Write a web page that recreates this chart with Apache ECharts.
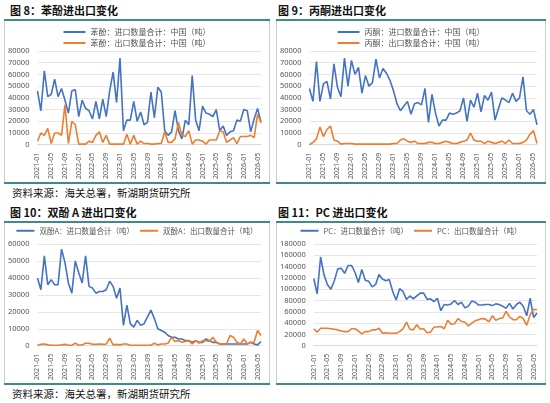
<!DOCTYPE html>
<html><head><meta charset="utf-8">
<script src="https://cdn.jsdelivr.net/npm/echarts@6/dist/echarts.min.js"></script>
<style>
body{margin:0;width:550px;height:403px;background:#fff;position:relative;overflow:hidden;font-family:"Noto Sans CJK SC",sans-serif}
.t{position:absolute;font-size:11px;font-weight:bold;color:#111;font-family:"Noto Sans CJK SC";}
.ln{position:absolute;height:2px;background:#3f8a8a}
.box{position:absolute;border-left:1px solid #ccc;border-right:1px solid #ccc}
.s{position:absolute;font-size:10.5px;color:#111;font-family:"Noto Sans CJK SC"}
</style></head><body>
<div class="t" style="left:10px;top:2px">图 8：苯酚进出口变化</div>
<div class="t" style="left:278px;top:2px">图 9：丙酮进出口变化</div>
<div class="t" style="left:10px;top:204px">图 10：双酚 A 进出口变化</div>
<div class="t" style="left:278px;top:204px">图 11：PC 进出口变化</div>
<div class="ln" style="left:4px;top:19px;width:266px"></div>
<div class="ln" style="left:276px;top:19px;width:270px"></div>
<div class="ln" style="left:4px;top:182px;width:266px"></div>
<div class="ln" style="left:276px;top:182px;width:270px"></div>
<div class="ln" style="left:4px;top:221px;width:266px"></div>
<div class="ln" style="left:276px;top:221px;width:270px"></div>
<div class="ln" style="left:4px;top:383px;width:266px"></div>
<div class="ln" style="left:276px;top:383px;width:270px"></div>
<div class="box" id="c1" style="left:4px;top:21px;width:264px;height:161px"></div>
<div class="box" id="c2" style="left:276px;top:21px;width:268px;height:161px"></div>
<div class="box" id="c3" style="left:4px;top:223px;width:264px;height:160px"></div>
<div class="box" id="c4" style="left:276px;top:223px;width:268px;height:160px"></div>
<div class="s" style="left:12px;top:185px">资料来源：海关总署，新湖期货研究所</div>
<div class="s" style="left:12px;top:386px">资料来源：海关总署，新湖期货研究所</div>
<script>
const months=[];for(let y=2021;y<=2026;y++)for(let m=1;m<=12;m++){if(months.length<66)months.push(y+'-'+String(m).padStart(2,'0'));}
const phenolImp=[46,29,63,41,43,56,41,48,38,27,46,47,24,38,31,29,22,37,22,39,24,46,62,36,74,12,21,21,37,20,28,17,19,45,23,49,45,12,8,11,29,12,5,21,17,59,21,12,33,27,26,24,30,12,16,8,11,12,21,20,30,29,11,22,31,19];
const phenolExp=[3,10,8,14,1,10,10,8,34,1,20,17,.5,.5,.5,3,2,8,11,2,8,.5,.5,.5,.5,.5,9,.5,8,.5,3,1,1,.5,.5,1,1,11,2,2,5,19,8,7,12,.5,4,4,3,.5,4,4,4,12,11,2,4,6,1,7,7,7,8,6,26,19];
const acetoneImp=[48,37,71,37,52,54,39,69,49,41,74,50,72,60,66,44,59,50,53,73,57,65,61,55,46,35,29,33,37,26,35,36,34,48,19,43,27,16,21,21,27,26,27,29,40,20,38,32,44,28,42,38,45,21,31,40,38,36,44,37,40,58,29,26,30,17];
const acetoneExp=[0,2,5,15,7,13,16,4,3,.5,1,1,1,.5,.5,.5,.5,.5,.5,.5,.5,.5,.5,.5,1,1,4,5,3,2,3,1,1,1,2,2,1,1,2,3,2,1,1,2,3,4,10,4,3,3,1,3,2,1,2,3,1,4,1,1,1,2,4,9,12,1];
const bpaImp=[40,33,53,36,39,36,36,57,49,37,31,50,43,37,53,35,34,31,32,32,33,38,35,28,34,12,24,13,11,15,12,13,17,21,16,10,9,8,6,5,5,4,4,3,3,2,3,2,2,4,3,2,2,1,1,1,1,1,1,1,1,1,2,1,.5,2.5];
const bpaExp=[.3,.8,1,.5,.3,.3,.3,.5,.8,.3,.3,1.5,.3,.5,1.5,1.5,.8,.8,1,.8,1,4.5,.5,.8,.5,1,1,.3,.3,.3,.3,.3,.3,.3,1.5,.5,1,1,1.5,5,2.5,3,2,2.5,3,1,3,1.5,3,3,2.5,5,2,1,1,1,6,5,2,1,4,1,2,2,9,6];
const pcImp=[119,92,157,125,108,100,115,136,137,128,142,142,130,112,135,116,114,104,108,126,118,115,117,96,81,101,96,82,88,83,88,93,93,82,83,78,84,62,73,72,74,80,73,77,67,70,79,77,72,72,73,73,71,74,73,70,66,75,65,73,77,70,53,84,50,58];
const pcExp=[30,24,31,31,31,30,29,28,26,25,25,30,30,26,21,25,25,28,28,31,22,23,22,22,22,25,30,42,29,28,37,29,30,23,24,33,33,34,30,45,38,39,48,43,42,35,40,44,46,48,47,42,53,45,48,49,61,51,46,46,52,48,36,55,64,64];
const k=a=>a.map(v=>Math.round(v*1000));
function mk(id,names,a,b,max,step,twoRow){
  const c=echarts.init(document.getElementById(id));
  const tx={color:'#555',fontSize:8,fontFamily:'Noto Sans CJK SC'};
  c.setOption({animation:false,
    legend:twoRow?{top:2,orient:'vertical',left:'center',itemWidth:22,itemHeight:2,itemGap:3,textStyle:tx,icon:'rect'}
                  :{top:4,left:'center',width:'100%',itemWidth:18,itemHeight:2,itemGap:6,textStyle:{...tx,fontSize:7.5},icon:'rect',padding:0},
    grid:{left:32,right:8,top:twoRow?30:21,bottom:twoRow?37:36},
    xAxis:{type:'category',data:months,boundaryGap:false,axisTick:{show:false},axisLine:{lineStyle:{color:'#d9d9d9'}},
      axisLabel:{color:'#555',fontFamily:'Noto Sans',rotate:90,interval:3,fontSize:7}},
    yAxis:{type:'value',min:0,max:max,interval:step,axisLabel:{color:'#555',fontFamily:'Noto Sans',fontSize:7.5,formatter:v=>String(v)},splitLine:{lineStyle:{color:'#e6e6e6'}}},
    series:[{name:names[0],type:'line',data:k(a),symbol:'none',lineStyle:{width:1.6,color:'#4472C4'},itemStyle:{color:'#4472C4'}},
            {name:names[1],type:'line',data:k(b),symbol:'none',lineStyle:{width:1.6,color:'#ED7D31'},itemStyle:{color:'#ED7D31'}}]});
}
mk('c1',['苯酚：进口数量合计：中国（吨）','苯酚：出口数量合计：中国（吨）'],phenolImp,phenolExp,80000,10000,true);
mk('c2',['丙酮：进口数量合计：中国（吨）','丙酮：出口数量合计：中国（吨）'],acetoneImp,acetoneExp,80000,10000,true);
mk('c3',['双酚A：进口数量合计（吨）','双酚A：出口数量合计（吨）'],bpaImp,bpaExp,60000,10000,false);
mk('c4',['PC：进口数量合计（吨）','PC：出口数量合计（吨）'],pcImp,pcExp,180000,20000,false);
</script></body></html>
